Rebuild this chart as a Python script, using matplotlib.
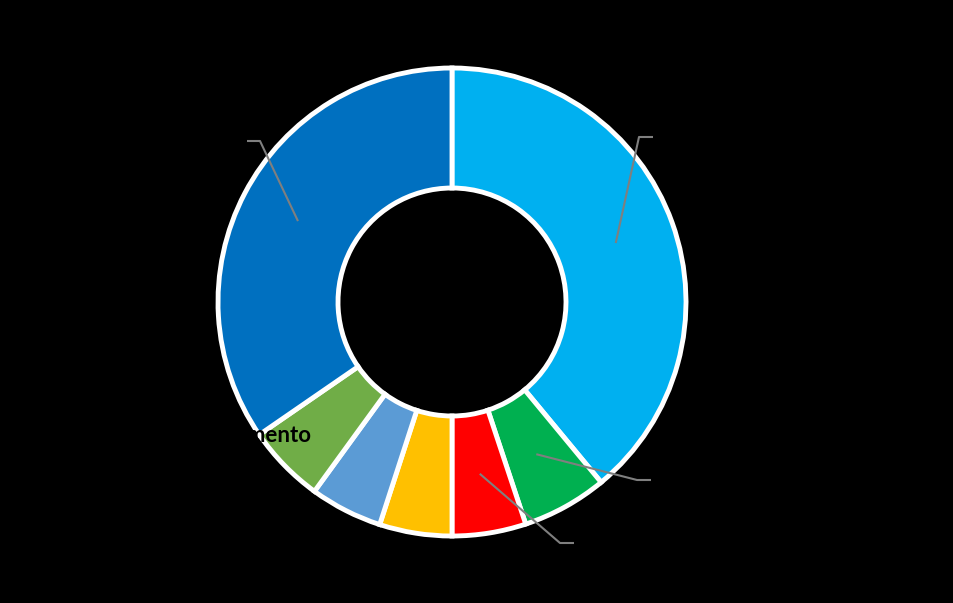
import numpy as np
import matplotlib
matplotlib.use('Agg')
import matplotlib.pyplot as plt

# --- Data (clockwise from 12 o'clock) ---
categories = ['Pessoal', 'Saúde', 'Educação', 'Transferências', 'Dívida', 'Investimento', 'Custeio']
values = [39.0, 5.9, 5.1, 5.0, 5.0, 5.4, 34.6]
colors = ['#00B0F0', '#00B050', '#FF0000', '#FFC000', '#5B9BD5', '#70AD47', '#0070C0']

# --- Layout (figure pixels, y measured from top) ---
W, H = 954, 603
cx, cy = 452, 302
r_out, r_in = 234, 114
# label anchor: (elbow x, elbow y, text x, text y, ha, leader line?)
label_layout = [
    (639, 137, 656, 137, 'left', True),
    (637, 480, 654, 480, 'left', True),
    (560, 543, 577, 543, 'left', True),
    (None, None, 420, 570, 'center', False),
    (None, None, 300, 505, 'right', False),
    (None, None, 311, 436, 'right', False),
    (260, 141, 244, 141, 'right', True),
]

fig = plt.figure(figsize=(W / 100, H / 100), dpi=100, facecolor='black')
ax = fig.add_axes([0, 0, 1, 1])
ax.set_facecolor('black')

wedges, _ = ax.pie(values, colors=colors, startangle=90, counterclock=False,
                   center=(cx, H - cy), radius=r_out,
                   wedgeprops=dict(width=r_out - r_in, edgecolor='white', linewidth=3.5))

# pie() resets the limits, so set them afterwards
ax.set_xlim(0, W)
ax.set_ylim(0, H)
ax.set_aspect('equal')
ax.axis('off')

r_mid = (r_out + r_in) / 2
for w, name, lay in zip(wedges, categories, label_layout):
    ex, ey, tx, ty, ha, leader = lay
    if leader:
        ang = np.deg2rad((w.theta1 + w.theta2) / 2)
        sx = cx + r_mid * np.cos(ang)
        sy = (H - cy) + r_mid * np.sin(ang)
        end_x = tx - 3 if ha == 'left' else tx + 3
        ax.plot([sx, ex, end_x], [sy, H - ey, H - ey], color='#7F7F7F', lw=1.5,
                solid_capstyle='butt', zorder=3)
    ax.text(tx, H - ty, name, ha=ha, va='center', fontsize=16, fontweight='bold',
            family='Lato', color='black', zorder=4)

fig.savefig('out.png', dpi=100, facecolor='black')
